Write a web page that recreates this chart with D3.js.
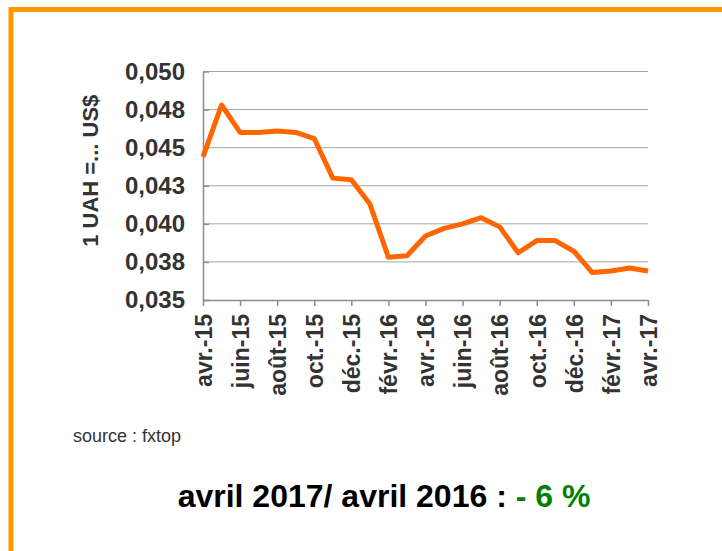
<!DOCTYPE html>
<html lang="fr">
<head>
  <meta charset="UTF-8">
  <title>UAH / USD</title>
  <style>
    body { margin: 0; background: #fff; }
    svg { display: block; font-family: "Liberation Sans", Arial, sans-serif; }
    .grid line { stroke: #a6a6a6; stroke-width: 1px; }
    .axis path, .axis line { stroke: #8c8c8c; stroke-width: 1.5px; }
    .axis text { font-weight: bold; fill: #333; }
  </style>
</head>
<body>
  <svg width="722" height="551"></svg>
  <script src="https://d3js.org/d3.v7.min.js"></script>
  <script>
    const months = ["avr.-15","mai-15","juin-15","juil.-15","août-15","sept.-15","oct.-15","nov.-15","déc.-15",
      "janv.-16","févr.-16","mars-16","avr.-16","mai-16","juin-16","juil.-16","août-16","sept.-16","oct.-16",
      "nov.-16","déc.-16","janv.-17","févr.-17","mars-17","avr.-17"];
    const rates = [0.0444,0.0478,0.0460,0.0460,0.0461,0.0460,0.0456,0.0430,0.0429,
      0.0413,0.0378,0.0379,0.0392,0.0397,0.0400,0.0404,0.0398,0.0381,0.0389,
      0.0389,0.0382,0.0368,0.0369,0.0371,0.0369];
    const yTicks = [0.035, 0.0375, 0.040, 0.0425, 0.045, 0.0475, 0.050];
    const yTickLabels = ["0,035","0,038","0,040","0,043","0,045","0,048","0,050"];
    const shownMonths = months.filter((m, i) => i % 2 === 0);

    const svg = d3.select("svg");
    const plotL = 203, plotR = 648, plotT = 71.5, plotB = 300;

    // orange frame
    svg.append("rect").attr("x", 11).attr("y", 9.5).attr("width", 760).attr("height", 620)
      .attr("fill", "none").attr("stroke", "#ff9900").attr("stroke-width", 5);

    const x = d3.scalePoint().domain(months).range([plotL, plotR]);
    const y = d3.scaleLinear().domain([0.035, 0.050]).range([plotB, plotT]);

    // gridlines
    svg.append("g").attr("class", "grid")
      .selectAll("line").data(yTicks.slice(1)).join("line")
      .attr("x1", plotL).attr("x2", plotR)
      .attr("y1", d => y(d)).attr("y2", d => y(d));

    // y axis
    const yAxis = svg.append("g").attr("class", "axis")
      .attr("transform", `translate(${plotL},0)`)
      .call(d3.axisLeft(y).tickValues(yTicks).tickSizeInner(-6).tickSizeOuter(0).tickPadding(18)
        .tickFormat((d, i) => yTickLabels[i]));
    yAxis.selectAll("text").style("font-size", "24px");

    // x axis
    const xAxis = svg.append("g").attr("class", "axis")
      .attr("transform", `translate(0,${plotB})`)
      .call(d3.axisBottom(x).tickValues(shownMonths).tickSizeInner(6).tickSizeOuter(0));
    xAxis.selectAll("text")
      .style("font-size", "23px")
      .attr("text-anchor", "end")
      .attr("transform", "rotate(-90)")
      .attr("x", -14).attr("y", 0).attr("dy", "0.36em");

    // y title
    svg.append("text")
      .attr("transform", `translate(98,${(plotT + plotB) / 2 - 15}) rotate(-90)`)
      .attr("text-anchor", "middle")
      .style("font-size", "22px").style("font-weight", "bold").attr("fill", "#333")
      .text("1 UAH =... US$");

    // line
    const line = d3.line().x((d, i) => x(months[i])).y(d => y(d));
    svg.append("path").datum(rates)
      .attr("fill", "none").attr("stroke", "#ff6600").attr("stroke-width", 5)
      .attr("stroke-linejoin", "round")
      .attr("d", line);

    svg.append("text").attr("x", 73).attr("y", 442)
      .style("font-size", "18px").attr("fill", "#333")
      .text("source : fxtop");

    const note = svg.append("text").attr("x", 384).attr("y", 507).attr("text-anchor", "middle")
      .style("font-size", "32px").style("font-weight", "bold");
    note.append("tspan").attr("fill", "#000").text("avril 2017/ avril 2016 : ");
    note.append("tspan").attr("fill", "#008000").text("- 6 %");
  </script>
</body>
</html>
